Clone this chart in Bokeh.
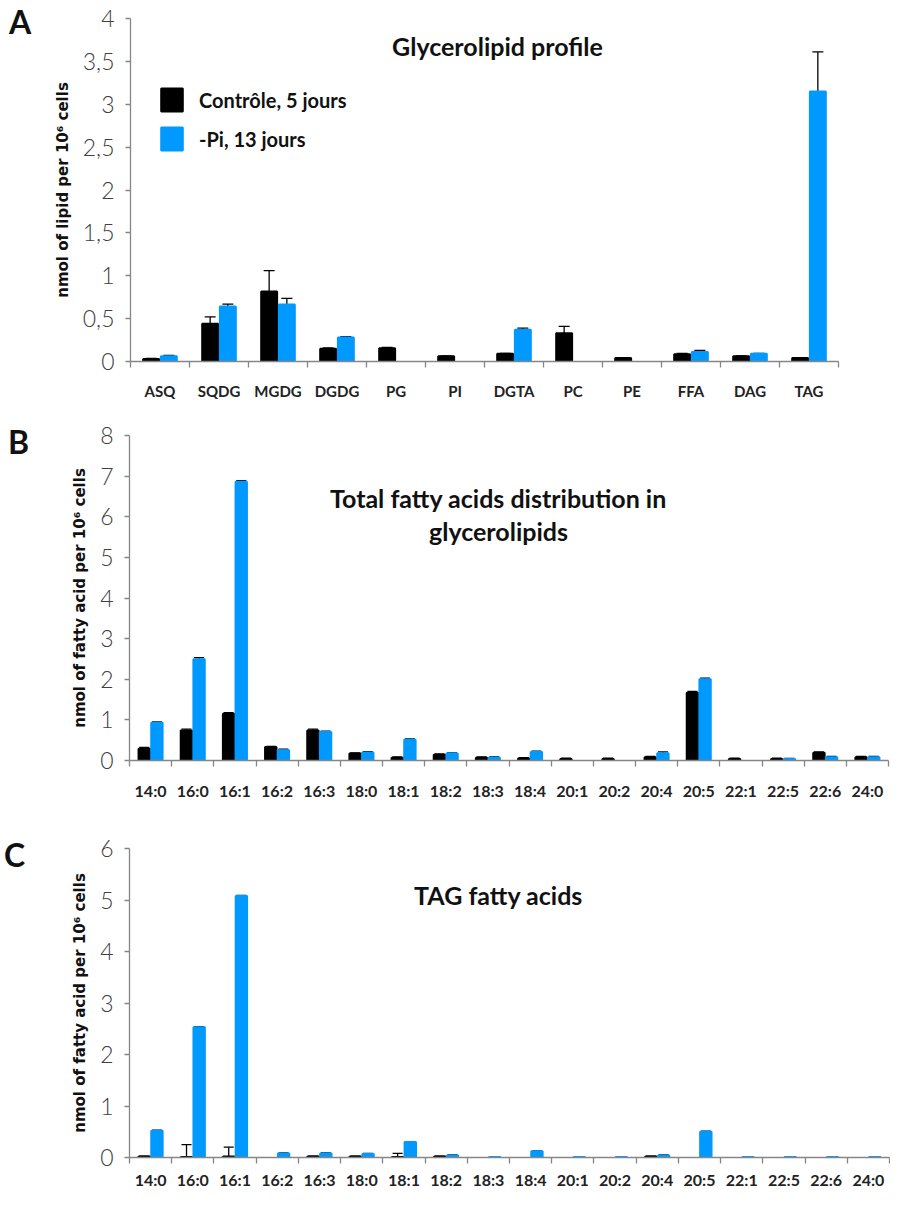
from bokeh.plotting import figure
from bokeh.models import (Range1d, FixedTicker, CustomJSTickFormatter, Whisker, TeeHead,
                          ColumnDataSource, Label, Legend, LegendItem, Div)
from bokeh.layouts import column, row
from bokeh.embed import file_html
from bokeh.resources import INLINE
import math

NAN = float("nan")

# ---------------- data ----------------
lipid_classes = ["ASQ", "SQDG", "MGDG", "DGDG", "PG", "PI", "DGTA", "PC", "PE", "FFA", "DAG", "TAG"]
lipid_ctrl = [0.03, 0.44, 0.815, 0.15, 0.155, 0.06, 0.09, 0.33, 0.04, 0.085, 0.06, 0.04]
lipid_ctrl_err = [0.005, 0.08, 0.245, 0.01, 0.01, 0.005, 0.005, 0.08, 0.005, 0.01, 0.005, 0.005]
lipid_pi = [0.06, 0.64, 0.665, 0.28, NAN, NAN, 0.37, NAN, NAN, 0.11, 0.09, 3.15]
lipid_pi_err = [0.01, 0.03, 0.07, 0.01, NAN, NAN, 0.02, NAN, NAN, 0.02, 0.005, 0.46]

fatty_acids = ["14:0", "16:0", "16:1", "16:2", "16:3", "18:0", "18:1", "18:2", "18:3",
               "18:4", "20:1", "20:2", "20:4", "20:5", "22:1", "22:5", "22:6", "24:0"]
total_ctrl = [0.29, 0.74, 1.15, 0.33, 0.74, 0.17, 0.07, 0.14, 0.07,
              0.05, 0.04, 0.04, 0.08, 1.67, 0.04, 0.04, 0.19, 0.08]
total_ctrl_err = [0.03, 0.03, 0.03, 0.02, 0.03, 0.02, 0.02, 0.02, 0.02,
                  0.02, 0.02, 0.02, 0.02, 0.03, 0.02, 0.02, 0.02, 0.02]
total_pi = [0.93, 2.49, 6.86, 0.25, 0.70, 0.20, 0.51, 0.17, 0.07,
            0.21, NAN, NAN, 0.18, 2.00, NAN, 0.04, 0.08, 0.08]
total_pi_err = [0.02, 0.04, 0.03, 0.03, 0.02, 0.02, 0.02, 0.02, 0.02,
                0.02, NAN, NAN, 0.03, 0.03, NAN, 0.01, 0.02, 0.02]

tag_ctrl = [0.02, 0.01, 0.02, NAN, 0.02, 0.02, 0.01, 0.02, NAN,
            NAN, NAN, NAN, 0.02, NAN, NAN, NAN, NAN, NAN]
tag_ctrl_err = [0.005, 0.24, 0.18, NAN, 0.005, 0.005, 0.07, 0.005, NAN,
                NAN, NAN, NAN, 0.005, NAN, NAN, NAN, NAN, NAN]
tag_pi = [0.52, 2.53, 5.08, 0.08, 0.08, 0.07, 0.30, 0.04, 0.01,
          0.12, 0.01, 0.01, 0.04, 0.50, 0.01, 0.01, 0.01, 0.01]
tag_pi_err = [0.01, 0.01, 0.01, 0.01, 0.01, 0.01, 0.01, 0.01, NAN,
              0.01, NAN, NAN, 0.01, 0.01, NAN, NAN, NAN, NAN]

series_names = ["Contrôle, 5 jours", "-Pi, 13 jours"]
CTRL_COLOR = "#000000"
PI_COLOR = "#0099FF"
AXIS_COLOR = "#868686"
LETTER_W = 40


def make_panel(cats, ctrl, ctrl_err, pi, pi_err, ymax, ystep, height,
               mb_left, mb_right, mb_top, mb_bottom, ylabel, xfont, xstandoff, cap):
    n = len(cats)
    p = figure(width=890 - LETTER_W, height=height, output_backend="svg", toolbar_location=None,
               x_range=Range1d(0, n), y_range=Range1d(0, ymax),
               min_border_left=mb_left - LETTER_W, min_border_right=mb_right,
               min_border_top=mb_top, min_border_bottom=mb_bottom)
    p.outline_line_color = None
    p.xgrid.grid_line_color = None
    p.ygrid.grid_line_color = None
    p.background_fill_color = "white"

    idx = list(range(n))
    x_ctrl = [i + 0.5 - 0.15 for i in idx]
    x_pi = [i + 0.5 + 0.15 for i in idx]

    src_c = ColumnDataSource(dict(x=x_ctrl, top=ctrl))
    src_p = ColumnDataSource(dict(x=x_pi, top=pi))
    r_c = p.vbar(x="x", top="top", width=0.27, bottom=0, source=src_c,
                 fill_color=CTRL_COLOR, line_color=CTRL_COLOR, line_width=2)
    r_p = p.vbar(x="x", top="top", width=0.27, bottom=0, source=src_p,
                 fill_color=PI_COLOR, line_color=PI_COLOR, line_width=2)

    for xs, vals, errs in ((x_ctrl, ctrl, ctrl_err), (x_pi, pi, pi_err)):
        bx, up, lo = [], [], []
        for x, v, e in zip(xs, vals, errs):
            if math.isnan(v) or math.isnan(e):
                continue
            bx.append(x)
            up.append(v + e)
            lo.append(max(v - e, 0))
        ws = ColumnDataSource(dict(x=bx, upper=up, lower=lo))
        w = Whisker(source=ws, base="x", upper="upper", lower="lower",
                    line_color="black", line_width=1.3,
                    upper_head=TeeHead(size=cap, line_color="black", line_width=1.3),
                    lower_head=TeeHead(size=cap, line_color="black", line_width=1.3))
        p.add_layout(w)

    # x axis: labels at category centres, ticks at category boundaries
    xa = p.xaxis[0]
    xa.ticker = FixedTicker(ticks=[i + 0.5 for i in idx], minor_ticks=list(range(n + 1)))
    xa.formatter = CustomJSTickFormatter(args=dict(labels=cats),
                                         code="return labels[Math.floor(tick)];")
    xa.major_tick_out = 0
    xa.major_tick_in = 0
    xa.minor_tick_out = 6
    xa.minor_tick_in = 0
    xa.axis_line_color = AXIS_COLOR
    xa.minor_tick_line_color = AXIS_COLOR
    xa.axis_line_width = 1.3
    xa.minor_tick_line_width = 1.3
    xa.major_label_text_font = "Lato"
    xa.major_label_text_font_style = "bold"
    xa.major_label_text_font_size = xfont
    xa.major_label_text_color = "#222222"
    xa.major_label_standoff = xstandoff

    ya = p.yaxis[0]
    ticks = []
    t = 0.0
    while t <= ymax + 1e-9:
        ticks.append(round(t, 2))
        t += ystep
    ya.ticker = FixedTicker(ticks=ticks)
    ya.formatter = CustomJSTickFormatter(code="return String(tick).replace('.', ',');")
    ya.major_tick_out = 5
    ya.major_tick_in = 0
    ya.minor_tick_line_color = None
    ya.axis_line_color = AXIS_COLOR
    ya.major_tick_line_color = AXIS_COLOR
    ya.axis_line_width = 1.3
    ya.major_tick_line_width = 1.3
    ya.major_label_text_font = "Lato Light"
    ya.major_label_text_font_size = "23px"
    ya.major_label_text_color = "#404040"
    ya.major_label_standoff = 11
    ya.axis_label = ylabel
    ya.axis_label_text_font = "DejaVu Sans"
    ya.axis_label_text_font_style = "bold"
    ya.axis_label_text_font_size = "15px"
    ya.axis_label_text_color = "#111111"
    ya.axis_label_standoff = 8
    return p, r_c, r_p


def add_text(p, x, y, text, size):
    p.add_layout(Label(x=x, y=y, text=text, text_font="Lato", text_font_style="bold",
                       text_font_size=size, text_align="center", text_baseline="middle",
                       text_color="#111111"))


def letter(text, height, top, left):
    return Div(text=('<div style="font-family:Lato;font-weight:bold;font-size:32px;'
                     'line-height:1;color:#111111;margin:0;padding-top:%dpx;'
                     'padding-left:%dpx">%s</div>') % (top, left, text),
               width=LETTER_W, height=height, margin=0)


# ---------------- panel A ----------------
pA, rA_c, rA_p = make_panel(lipid_classes, lipid_ctrl, lipid_ctrl_err, lipid_pi, lipid_pi_err,
                            4, 0.5, 402, 130, 52, 18, 41,
                            "nmol of lipid per 10⁶ cells", "15px", 14, 11)
add_text(pA, 6.22, 3.68, "Glycerolipid profile", "25px")
legend = Legend(items=[LegendItem(label=series_names[0], renderers=[rA_c]),
                       LegendItem(label=series_names[1], renderers=[rA_p])],
                location=(28, 208), glyph_width=27, glyph_height=29, label_height=29,
                label_standoff=14, spacing=10, padding=0, margin=0,
                border_line_color=None, background_fill_alpha=0,
                label_text_font="Lato", label_text_font_style="bold",
                label_text_font_size="20px", label_text_color="#111111")
pA.add_layout(legend)

# ---------------- panel B ----------------
pB, _, _ = make_panel(fatty_acids, total_ctrl, total_ctrl_err, total_pi, total_pi_err,
                      8, 1, 400, 129, 2, 33, 42,
                      "nmol of fatty acid per 10⁶ cells", "16px", 14, 10)
add_text(pB, 8.75, 6.47, "Total fatty acids distribution in", "25px")
add_text(pB, 8.75, 5.66, "glycerolipids", "25px")

# ---------------- panel C ----------------
pC, _, _ = make_panel(fatty_acids, tag_ctrl, tag_ctrl_err, tag_pi, tag_pi_err,
                      6, 1, 389, 129, 1, 46, 25,
                      "nmol of fatty acid per 10⁶ cells", "16px", 6, 10)
add_text(pC, 8.74, 5.09, "TAG fatty acids", "25px")

layout = column(row(letter("A", 402, 6, 9), pA, spacing=0),
                row(letter("B", 400, 24, 8), pB, spacing=0),
                row(letter("C", 389, 37, 4), pC, spacing=0),
                spacing=0)
open("out.html", "w").write(file_html(layout, INLINE))
